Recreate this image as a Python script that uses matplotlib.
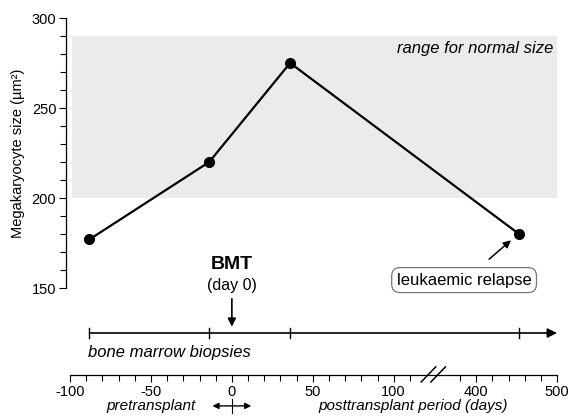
import numpy as np
import matplotlib
matplotlib.use("Agg")
import matplotlib.pyplot as plt
from matplotlib.ticker import FixedLocator, FixedFormatter

plt.rcParams['font.family'] = ['Liberation Sans', 'DejaVu Sans']

# biopsy days relative to BMT and megakaryocyte size
days = [-88, -14, 36, 453]
size = [177, 220, 275, 180]

normal_range = (200, 290)
major_days = [-100, -50, 0, 50, 100, 400, 500]
major_labels = ['-100', '-50', '0', '50', '100', '400', '500']
minor_days = [-90, -80, -70, -60, -40, -30, -20, -10, 10, 20, 30, 40,
              60, 70, 80, 90, 110, 380, 420, 440, 460, 480]


# broken time axis: compress the gap between 120 and 380 days
def fwd(d):
    return np.interp(d, [-1000, 120, 380, 2000], [-1000, 120, 141, 950])


def inv(p):
    return np.interp(p, [-1000, 120, 141, 950], [-1000, 120, 380, 2000])


fig = plt.figure(figsize=(5.71, 4.17), dpi=100)
W, H = 571, 417
ax = fig.add_axes([66 / W, (H - 288) / H, 491 / W, 270 / H])
ax.set_xscale('function', functions=(fwd, inv))
ax.set_xlim(-102.5, 500)
ax.set_ylim(150, 300)

ax.axhspan(*normal_range, xmin=0.012, xmax=1, color='#ebebeb', lw=0, zorder=0)
ax.plot(days, size, color='black', lw=1.6, marker='o', ms=7, zorder=3)

for s in ['top', 'right', 'bottom']:
    ax.spines[s].set_visible(False)
ax.spines['left'].set_linewidth(0.9)
ax.set_xticks([])
ax.set_yticks([150, 200, 250, 300])
ax.set_yticks(np.arange(160, 300, 10), minor=True)
ax.tick_params(axis='y', which='major', length=5, width=0.8, labelsize=10.5, pad=2)
ax.tick_params(axis='y', which='minor', length=4, width=0.8)
ax.set_ylabel('Megakaryocyte size (µm²)', fontsize=10.5, labelpad=5)

ax.text(495, 283, 'range for normal size', ha='right', va='center',
        fontsize=12, style='italic')

# leukaemic relapse label
ax.annotate('', xy=(443, 176.5), xytext=(416, 166),
            arrowprops=dict(arrowstyle='-|>', color='black', lw=1.1,
                            mutation_scale=11, shrinkA=0, shrinkB=0),
            annotation_clip=False)
ax.text(385, 154.4, 'leukaemic relapse', ha='center', va='center', fontsize=12,
        bbox=dict(boxstyle='round,pad=0.3,rounding_size=0.5', fc='white',
                  ec='#777777', lw=0.9), clip_on=False)

# BMT marker
ax.text(0, 163, 'BMT', ha='center', va='center', fontsize=14,
        fontweight='bold', clip_on=False)
ax.text(0, 151.5, '(day 0)', ha='center', va='center', fontsize=11.5, clip_on=False)
ax.annotate('', xy=(0, 128.5), xytext=(0, 144),
            arrowprops=dict(arrowstyle='-|>', color='black', lw=1.2,
                            mutation_scale=12, shrinkA=0, shrinkB=0),
            annotation_clip=False)

# biopsy timeline
ax.annotate('', xy=(500, 125), xytext=(days[0], 125),
            arrowprops=dict(arrowstyle='-|>', color='black', lw=1.2,
                            mutation_scale=14, shrinkA=0, shrinkB=0),
            annotation_clip=False)
for d in days:
    ax.plot([d, d], [122.2, 127.8], color='black', lw=1.0, clip_on=False)
ax.text(days[0] - 1, 114, 'bone marrow biopsies', ha='left', va='center',
        fontsize=12, style='italic', clip_on=False)

# bottom day axis
ax2 = fig.add_axes([66 / W, (H - 375) / H, 491 / W, 0.001])
ax2.set_xscale('function', functions=(fwd, inv))
ax2.set_xlim(-102.5, 500)
ax2.patch.set_visible(False)
for s in ['top', 'right', 'left']:
    ax2.spines[s].set_visible(False)
ax2.spines['bottom'].set_bounds(-100, 500)
ax2.spines['bottom'].set_linewidth(0.9)
ax2.set_yticks([])
ax2.xaxis.set_major_locator(FixedLocator(major_days))
ax2.xaxis.set_major_formatter(FixedFormatter(major_labels))
ax2.xaxis.set_minor_locator(FixedLocator(minor_days))
ax2.tick_params(axis='x', which='major', length=5, width=0.8, labelsize=10.5, pad=2)
ax2.tick_params(axis='x', which='minor', length=4, width=0.8)

# break marks
for p0 in [121.5, 127.5]:
    ax.plot([inv(p0 - 4.5), inv(p0 + 4.5)], [97.8, 106.2], color='black',
            lw=1.1, clip_on=False)

ax.text(-50, 84.5, 'pretransplant', ha='center', va='center', fontsize=11,
        style='italic', clip_on=False)
ax.text(112, 84.5, 'posttransplant period (days)', ha='center', va='center',
        fontsize=11, style='italic', clip_on=False)
ax.annotate('', xy=(-12, 84.5), xytext=(12, 84.5),
            arrowprops=dict(arrowstyle='<|-|>', color='black', lw=1.0,
                            mutation_scale=9, shrinkA=0, shrinkB=0),
            annotation_clip=False)
ax.plot([0, 0], [80.5, 88.5], color='black', lw=0.8, clip_on=False)

fig.savefig('out.png', dpi=100)
